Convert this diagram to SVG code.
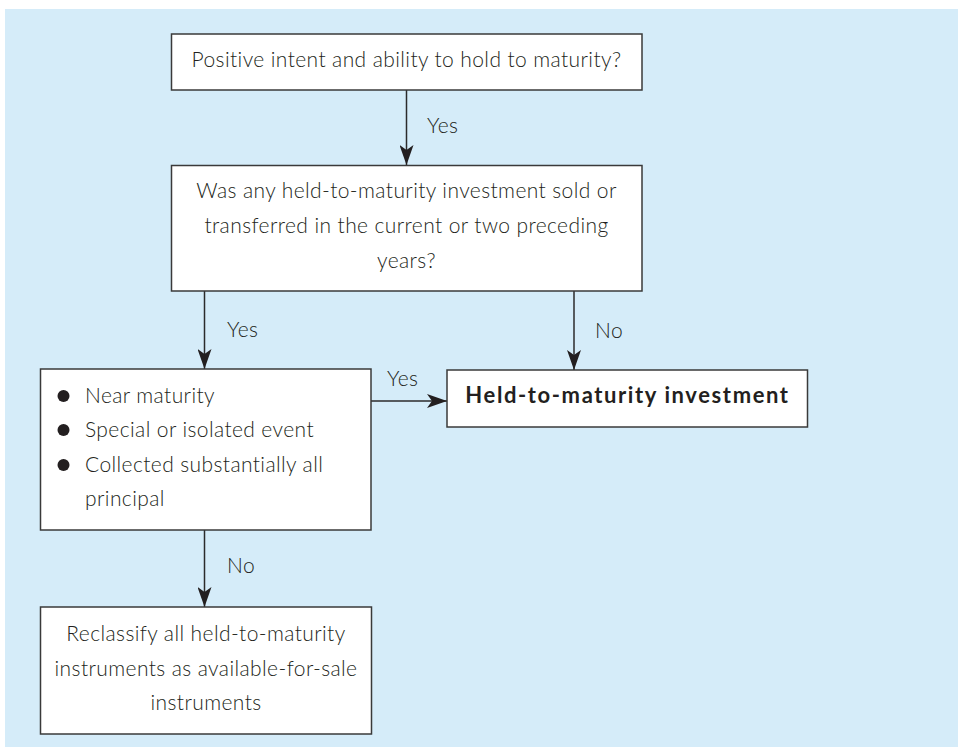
<svg xmlns="http://www.w3.org/2000/svg" width="958" height="754" viewBox="0 0 958 754">
<style>
  .box { fill: #ffffff; stroke: #3a3a3a; stroke-width: 1.5; }
  .txt { font-family: Lato, "Open Sans", "Liberation Sans", sans-serif; font-weight: 300; font-size: 21px; letter-spacing: 0.4px; fill: #231f20; }
  .mid { text-anchor: middle; }
  .bold { font-weight: 700; font-size: 22px; letter-spacing: 1.6px; }
  .conn { stroke: #2b2b2b; stroke-width: 1.5; fill: none; marker-end: url(#arrow); }
</style>
<defs>
  <marker id="arrow" viewBox="0 0 20 14" refX="20" refY="7" markerWidth="20" markerHeight="14" markerUnits="userSpaceOnUse" orient="auto">
    <path d="M0,0 L20,7 L0,14 L5,7 Z" fill="#231f20"/>
  </marker>
</defs>
<rect x="0" y="0" width="958" height="754" fill="#ffffff"/>
<rect x="5" y="9" width="953" height="738" fill="#d5ecf9"/>

<g id="connectors">
  <line class="conn" x1="406.5" y1="90" x2="406.5" y2="165"/>
  <text class="txt" x="427" y="133">Yes</text>
  <line class="conn" x1="204.5" y1="291" x2="204.5" y2="369"/>
  <text class="txt" x="227" y="337">Yes</text>
  <line class="conn" x1="574" y1="291" x2="574" y2="370"/>
  <text class="txt" x="595" y="338">No</text>
  <line class="conn" x1="371" y1="401" x2="447" y2="401"/>
  <text class="txt" x="387" y="386">Yes</text>
  <line class="conn" x1="204.5" y1="530" x2="204.5" y2="607"/>
  <text class="txt" x="227" y="573">No</text>
</g>

<g id="n1">
  <rect class="box" x="171.5" y="34" width="470.5" height="56"/>
  <text class="txt mid" x="406.5" y="67">Positive intent and ability to hold to maturity?</text>
</g>

<g id="n2">
  <rect class="box" x="171.5" y="165.5" width="470.5" height="125.5"/>
  <text class="txt mid" x="406.5" y="198">Was any held-to-maturity investment sold or</text>
  <text class="txt mid" x="406.5" y="233">transferred in the current or two preceding</text>
  <text class="txt mid" x="406.5" y="268">years?</text>
</g>

<g id="n3">
  <rect class="box" x="40.5" y="369" width="330.5" height="161"/>
  <circle cx="63.5" cy="396" r="6" fill="#231f20"/>
  <circle cx="63.5" cy="430" r="6" fill="#231f20"/>
  <circle cx="63.5" cy="465" r="6" fill="#231f20"/>
  <text class="txt" x="85" y="403">Near maturity</text>
  <text class="txt" x="85" y="437">Special or isolated event</text>
  <text class="txt" x="85" y="472">Collected substantially all</text>
  <text class="txt" x="85" y="506">principal</text>
</g>

<g id="n4">
  <rect class="box" x="447" y="370" width="360.5" height="57"/>
  <text class="txt bold mid" x="627.5" y="403">Held-to-maturity investment</text>
</g>

<g id="n5">
  <rect class="box" x="40.5" y="607" width="331" height="127"/>
  <text class="txt mid" x="206" y="641">Reclassify all held-to-maturity</text>
  <text class="txt mid" x="206" y="676">instruments as available-for-sale</text>
  <text class="txt mid" x="206" y="710">instruments</text>
</g>
</svg>
